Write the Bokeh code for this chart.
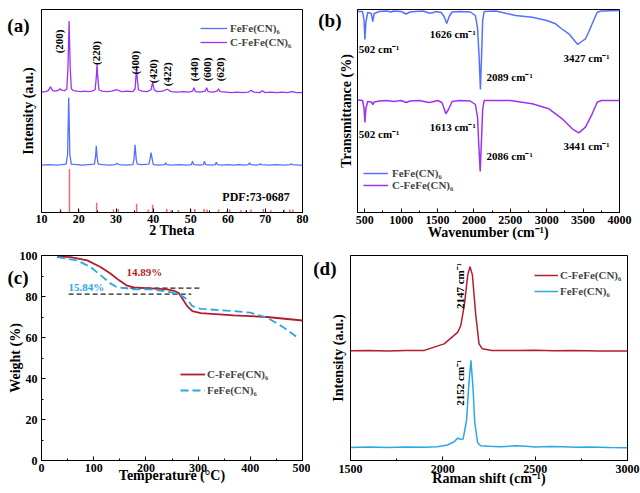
from bokeh.plotting import figure
from bokeh.layouts import column, row
from bokeh.models import (Range1d, Legend, LegendItem, FixedTicker, SingleIntervalTicker, LinearAxis)
from bokeh.core.properties import value
from bokeh.embed import file_html
from bokeh.resources import INLINE

FONT = "Liberation Serif"

# ---------------- (a) XRD ----------------
xrd_theta_c = [10, 11, 11.8, 12.4, 13.0, 13.8, 14.6, 15.0, 15.4, 16.2, 16.8, 17.1, 17.4, 17.7, 18.0, 18.6,
               19.5, 20.5, 21.5, 22.5, 23.5, 24.4, 24.7, 24.9, 25.1, 25.4, 26.2, 27.5, 28.8, 30.2, 31.5,
               33.0, 34.5, 35.1, 35.35, 35.5, 35.7, 36.0, 37.0, 38.3, 39.4, 39.8, 40.2, 41.0, 42.5, 43.7,
               44.8, 46.5, 48.0, 49.5, 50.5, 50.9, 51.3, 52.5, 53.9, 54.3, 54.7, 56.0, 57.1, 57.5, 57.9,
               59.5, 61.0, 62.5, 64.0, 65.5, 66.2, 67.0, 68.5, 69.2, 70.0, 71.5, 73.0, 74.5, 76.0, 77.0,
               78.5, 80]
xrd_int_c = [124.5, 125, 126, 130, 126, 125.5, 126.5, 128, 126.5, 126, 128, 150, 198, 150, 128, 126,
             125.5, 125, 125.5, 125, 125.5, 127, 140, 153, 140, 127, 125.5, 125, 125.5, 127, 125,
             125.5, 125, 128, 142, 149, 138, 127, 125.5, 125, 127, 135, 127, 125, 125.5, 127.5,
             125, 124.5, 125, 124.5, 125.5, 129, 125, 124.5, 125.5, 129, 125, 124.5, 125.5, 128, 125,
             124.5, 124, 124.5, 124, 124.5, 126.5, 124.5, 124, 126, 124, 124.5, 124, 124.5, 124, 125,
             124, 124]
xrd_theta = [10, 12, 14, 15.5, 16.6, 17.0, 17.3, 17.6, 18.0, 19.5, 21, 22.5, 24.2, 24.5, 24.7, 24.9,
             25.2, 26.5, 28, 29.8, 30.3, 30.8, 32.5, 34.5, 34.8, 35.1, 35.4, 35.7, 37, 38.8, 39.1,
             39.4, 39.7, 40.0, 41.5, 43.0, 43.3, 43.6, 45, 47, 49, 50.2, 50.5, 50.8, 52.5, 53.4, 53.7,
             54.0, 55.5, 56.6, 56.9, 57.2, 58.5, 60, 61.5, 63, 64.5, 65.5, 65.8, 66.1, 67.5, 68.4,
             68.7, 69.0, 71, 73, 75, 76.7, 77.0, 77.3, 79, 80]
xrd_int = [49, 49.5, 49, 49.5, 50, 60, 119, 60, 50, 49.5, 49, 49.5, 50, 58, 69, 58,
           50, 49.5, 49, 49.5, 51, 49.5, 49, 49.5, 55, 70, 55, 50, 49.5, 50, 55,
           62, 55, 49.5, 49, 49.5, 51.5, 49.5, 49, 49.5, 49, 49.5, 53, 49.5, 49, 49.5, 53,
           49.5, 49, 49.5, 52, 49.5, 49, 49.5, 49, 49.5, 49, 49.5, 51.5, 49.5, 49, 49.5,
           50.5, 49.5, 49, 49.5, 49, 49.5, 50.5, 49.5, 49, 49]
pdf_theta = [15.1, 17.5, 20.0, 24.8, 29.3, 30.6, 35.5, 38.6, 39.8, 43.6, 44.8, 46.7, 50.0, 51.1,
             53.6, 54.4, 57.5, 59.8, 60.5, 63.5, 64.9, 66.2, 69.5, 71.5, 75.1, 76.6, 77.4]
pdf_int = [4, 45, 3, 10, 3, 3.5, 9, 3, 8, 3.5, 2.5, 2.5, 3.5, 3.5,
           3.5, 3, 3, 2.5, 3, 2.5, 2.5, 3, 3.5, 2.5, 3, 3, 3]
hkl_text = ["(200)", "(220)", "(400)", "(420)", "(422)", "(440)", "(600)", "(620)"]
hkl_theta = [14.8, 24.6, 35.2, 39.85, 43.7, 50.8, 54.4, 57.8]
hkl_y = [177, 165, 155, 146, 143, 148, 148, 148]

# ---------------- (b) FTIR ----------------
ftir_wn = [400, 470, 490, 502, 515, 540, 590, 610, 630, 700, 800, 860, 900, 1000, 1070, 1120, 1200,
           1300, 1380, 1420, 1480, 1550, 1590, 1626, 1660, 1700, 1800, 1950, 2020, 2050, 2070, 2089,
           2105, 2120, 2140, 2300, 2572, 2801, 3000, 3121, 3200, 3304, 3380, 3427, 3480, 3533, 3580,
           3625, 3694, 3750, 4000]
ftir_t = [201, 201, 192, 173, 190, 200, 199, 191, 199, 201, 201.5, 200.5, 201.5, 201, 198.5, 200.5, 201,
          201.5, 199.5, 199.5, 201, 200, 196, 189, 196, 200.5, 201, 200.5, 197, 184, 157, 123,
          157, 192, 201, 201.5, 197, 195.3, 192, 188.7, 184, 178.7, 172, 168, 171, 173.7, 181,
          188.7, 200.3, 201.5, 202]
ftir_wn_c = [400, 470, 490, 502, 515, 540, 590, 610, 630, 700, 800, 900, 1000, 1070, 1120, 1250, 1380,
             1420, 1500, 1560, 1590, 1613, 1650, 1700, 1800, 1950, 2020, 2050, 2065, 2086, 2105, 2120,
             2140, 2500, 2801, 3030, 3213, 3351, 3441, 3533, 3625, 3694, 3750, 4000]
ftir_t_c = [112.5, 112, 104, 90, 104, 111, 110.5, 108, 110.5, 111.5, 112, 111, 112, 110, 111.5, 112, 110,
            110.5, 112, 110, 104, 98.7, 103, 111, 112, 111.5, 108, 95, 70, 41, 75, 103,
            112, 112, 108.7, 103.7, 93.7, 83.7, 79.7, 85.3, 98.7, 110.3, 112, 112]
ir_text = ["502 cm⁻¹", "1626 cm⁻¹", "2089 cm⁻¹", "3427 cm⁻¹",
           "502 cm⁻¹", "1613 cm⁻¹", "2086 cm⁻¹", "3441 cm⁻¹"]
ir_x = [418, 1392, 2174, 3231, 418, 1392, 2174, 3231]
ir_y = [164, 179, 136, 155, 79, 86, 57, 67]

# ---------------- (c) TGA ----------------
tga_T_c = [30, 56, 87.5, 113, 132, 148, 164, 177, 209, 241, 254, 263, 271, 279, 289, 305, 368, 432, 500]
tga_W_c = [99.5, 99.2, 97.6, 94.4, 91.2, 88.0, 85.3, 84.5, 84.0, 83.5, 82.8, 81.7, 78.5, 75.3, 72.9,
           71.9, 70.8, 70.0, 68.3]
tga_T = [30, 68, 94, 113, 132, 145, 177, 209, 241, 266, 279, 289, 305, 368, 400, 432, 464, 490]
tga_W = [99.2, 97.6, 94.4, 90.4, 86.4, 84.5, 83.5, 83.5, 82.5, 80.9, 78.5, 75.3, 74.0, 72.9, 72.1,
         69.7, 64.9, 60.1]
guide_T = [[155, 308], [52, 287]]
guide_W = [[84.1, 84.1], [81.2, 81.2]]
loss_text = ["14.89%", "15.84%"]
loss_T = [197, 86]
loss_W = [91.9, 84.7]

# ---------------- (d) Raman ----------------
raman_x_c = [1500, 1600, 1700, 1800, 1900, 1953, 2007, 2053, 2080, 2097, 2117, 2135, 2147, 2160, 2178,
             2196, 2214, 2265, 2400, 2500, 2600, 2700, 2850, 3000]
raman_y_c = [111.3, 111.5, 111.2, 111.5, 111.7, 115, 118.3, 125.7, 130, 136.7, 158.3, 188.3, 196.7,
             188.3, 148.3, 118.3, 113.3, 111.7, 111.5, 111.8, 111.3, 111.5, 111.2, 111]
raman_x = [1500, 1600, 1700, 1800, 1900, 1970, 2025, 2062, 2080, 2095, 2110, 2129, 2140, 2152, 2163,
           2173, 2188, 2205, 2250, 2313, 2400, 2450, 2500, 2580, 2650, 2720, 2800, 2900, 3000]
raman_y = [13.3, 13.8, 13.2, 13.7, 13.4, 14, 15.7, 19, 22.7, 21.5, 21.7, 41.7, 75, 101.7, 75,
           38.3, 18.3, 15, 14.5, 14, 15, 14.5, 13.7, 14.2, 14, 13.5, 13.8, 13.3, 13]
raman_text = ["2147 cm⁻¹", "2152 cm⁻¹"]
raman_tx = [2094, 2094]
raman_ty = [177, 79]

panel_tags = ["(a)", "(b)", "(c)", "(d)"]

BLUE = "#5470FF"
PURPLE = "#9A33F2"
PDF_RED = "#EE6B78"
DRED = "#B01E2E"
LBLUE = "#29A8E6"


def make_fig(w, h, xr, yr, bl, br, bt, bb):
    p = figure(width=w, height=h, x_range=Range1d(*xr), y_range=Range1d(*yr),
               output_backend="svg", toolbar_location=None,
               min_border_left=bl, min_border_right=br, min_border_top=bt, min_border_bottom=bb)
    p.grid.visible = False
    p.outline_line_color = "black"
    p.outline_line_alpha = 1
    p.outline_line_width = 1
    p.background_fill_color = "white"
    p.border_fill_color = "white"
    for ax in p.axis:
        ax.axis_line_color = "black"
        ax.major_tick_line_color = "black"
        ax.minor_tick_line_color = "black"
        ax.major_tick_in = 4
        ax.major_tick_out = 0
        ax.minor_tick_in = 2
        ax.minor_tick_out = 0
        ax.major_label_text_font = FONT
        ax.major_label_text_font_style = "bold"
        ax.major_label_text_font_size = "12px"
        ax.major_label_text_color = "black"
        ax.axis_label_text_font = FONT
        ax.axis_label_text_font_style = "bold"
        ax.axis_label_text_font_size = "14px"
        ax.axis_label_text_color = "black"
    return p


def hide_y_ticks(p):
    p.yaxis.ticker = FixedTicker(ticks=[])
    p.yaxis.minor_tick_line_color = None


def add_tag(p, t, yval, standoff):
    # panel letter drawn as the single horizontal tick label of an extra, line-less left axis
    ax = LinearAxis(ticker=FixedTicker(ticks=[yval]), major_label_overrides={yval: t},
                    axis_line_color=None, major_tick_line_color=None, minor_tick_line_color=None,
                    major_tick_in=0, major_tick_out=0, minor_tick_in=0, minor_tick_out=0,
                    major_label_standoff=standoff, major_label_text_font=FONT,
                    major_label_text_font_style="bold", major_label_text_font_size="19px",
                    major_label_text_color="black")
    p.add_layout(ax, "left")


def legend(p, items, loc, gw, lh, standoff):
    lg = Legend(items=[LegendItem(label=l, renderers=[r]) for l, r in items], location=loc,
                glyph_width=gw, glyph_height=lh, label_height=lh, label_standoff=standoff,
                spacing=0, padding=0, margin=0, border_line_alpha=0, background_fill_alpha=0,
                label_text_font=FONT, label_text_font_style="bold", label_text_font_size="11px",
                label_text_baseline="middle")
    p.add_layout(lg)


# ---- panel a  (frame 41..302 x 3..213)
pa = make_fig(310, 245, (10, 80), (0, 210), 41, 8, 3, 32)
pa.xaxis.ticker = SingleIntervalTicker(interval=10, num_minor_ticks=2)
hide_y_ticks(pa)
pa.xaxis.axis_label = "2 Theta"
pa.yaxis.axis_label = "Intensity (a.u.)"
pa.xaxis.major_label_standoff = 2
pa.xaxis.axis_label_standoff = -3
pa.yaxis.axis_label_standoff = 6
pa.segment(x0=pdf_theta, y0=[0] * len(pdf_theta), x1=pdf_theta, y1=pdf_int, line_color=PDF_RED,
           line_width=1.5)
ra_b = pa.line(xrd_theta, xrd_int, line_color=BLUE, line_width=1.3)
ra_c = pa.line(xrd_theta_c, xrd_int_c, line_color=PURPLE, line_width=1.3)
pa.text(x=hkl_theta, y=hkl_y, text=hkl_text, angle=1.5708, text_font=value(FONT),
        text_font_style="bold", text_font_size="11px", text_align="center", text_baseline="middle")
pa.text(x=[58.5], y=[16], text=["PDF:73-0687"], text_font=value(FONT), text_font_style="bold",
        text_font_size="12px", text_align="left", text_baseline="middle")
legend(pa, [("FeFe(CN)₆", ra_b), ("C-FeFe(CN)₆", ra_c)], (159, 163), 27, 14, 3)
add_tag(pa, panel_tags[0], 193.0, -12)

# ---- panel b  (frame 357..619 x 9..212, figure starts at x=310)
pb = make_fig(330, 245, (400, 4000), (0, 203), 47, 21, 9, 33)
pb.xaxis.ticker = SingleIntervalTicker(interval=500, num_minor_ticks=2)
hide_y_ticks(pb)
pb.xaxis.axis_label = "Wavenumber (cm⁻¹)"
pb.yaxis.axis_label = "Transmittance (%)"
pb.xaxis.major_label_standoff = 3
pb.xaxis.axis_label_standoff = -2
pb.yaxis.axis_label_standoff = 4
rb_b = pb.line(ftir_wn, ftir_t, line_color=BLUE, line_width=1.5)
rb_c = pb.line(ftir_wn_c, ftir_t_c, line_color=PURPLE, line_width=1.5)
pb.text(x=ir_x, y=ir_y, text=ir_text, text_font=value(FONT), text_font_style="bold",
        text_font_size="11px", text_align="left", text_baseline="middle")
legend(pb, [("FeFe(CN)₆", rb_b), ("C-FeFe(CN)₆", rb_c)], (6, 21), 25, 12, 4)
add_tag(pb, panel_tags[1], 192.0, -6)

# ---- panel c  (frame 41..302 x 255..464)
pc = make_fig(310, 248, (0, 500), (0, 100), 41, 8, 10, 29)
pc.xaxis.ticker = SingleIntervalTicker(interval=100, num_minor_ticks=2)
pc.yaxis.ticker = SingleIntervalTicker(interval=20, num_minor_ticks=2)
pc.xaxis.axis_label = "Temperature (°C)"
pc.yaxis.axis_label = "Weight (%)"
pc.xaxis.major_label_standoff = 3
pc.xaxis.axis_label_standoff = -7
pc.yaxis.major_label_standoff = 4
pc.yaxis.axis_label_standoff = -6
pc.multi_line(xs=guide_T, ys=guide_W, line_color="#222222", line_width=1.2, line_dash="5 3")
rc_c = pc.line(tga_T_c, tga_W_c, line_color=DRED, line_width=1.8)
rc_b = pc.line(tga_T, tga_W, line_color=LBLUE, line_width=1.8, line_dash="8 4")
pc.text(x=loss_T, y=loss_W, text=loss_text, text_color=[DRED, LBLUE], text_font=value(FONT),
        text_font_style="bold", text_font_size="11px", text_align="center", text_baseline="middle")
legend(pc, [("C-FeFe(CN)₆", rc_c), ("FeFe(CN)₆", rc_b)], (139, 62), 25, 16, 2)
add_tag(pc, panel_tags[2], 89.5, -24)

# ---- panel d  (frame 349..627 x 252..460, figure starts at x=310)
pd = make_fig(330, 248, (1500, 3000), (0, 208), 39, 13, 7, 33)
pd.xaxis.ticker = SingleIntervalTicker(interval=500, num_minor_ticks=2)
hide_y_ticks(pd)
pd.xaxis.axis_label = "Raman shift (cm⁻¹)"
pd.yaxis.axis_label = "Intensity (a.u.)"
pd.xaxis.major_label_standoff = 4
pd.xaxis.axis_label_standoff = -5
pd.yaxis.axis_label_standoff = 5
rd_c = pd.line(raman_x_c, raman_y_c, line_color=DRED, line_width=1.5)
rd_b = pd.line(raman_x, raman_y, line_color=LBLUE, line_width=1.5)
pd.text(x=raman_tx, y=raman_ty, text=raman_text, angle=1.5708, text_font=value(FONT),
        text_font_style="bold", text_font_size="11px", text_align="center", text_baseline="middle")
legend(pd, [("C-FeFe(CN)₆", rd_c), ("FeFe(CN)₆", rd_b)], (184, 161), 24, 16, 2)
add_tag(pd, panel_tags[3], 195.0, -9)

layout = column(row(pa, pb), row(pc, pd))
open("out.html", "w").write(file_html(layout, INLINE))
